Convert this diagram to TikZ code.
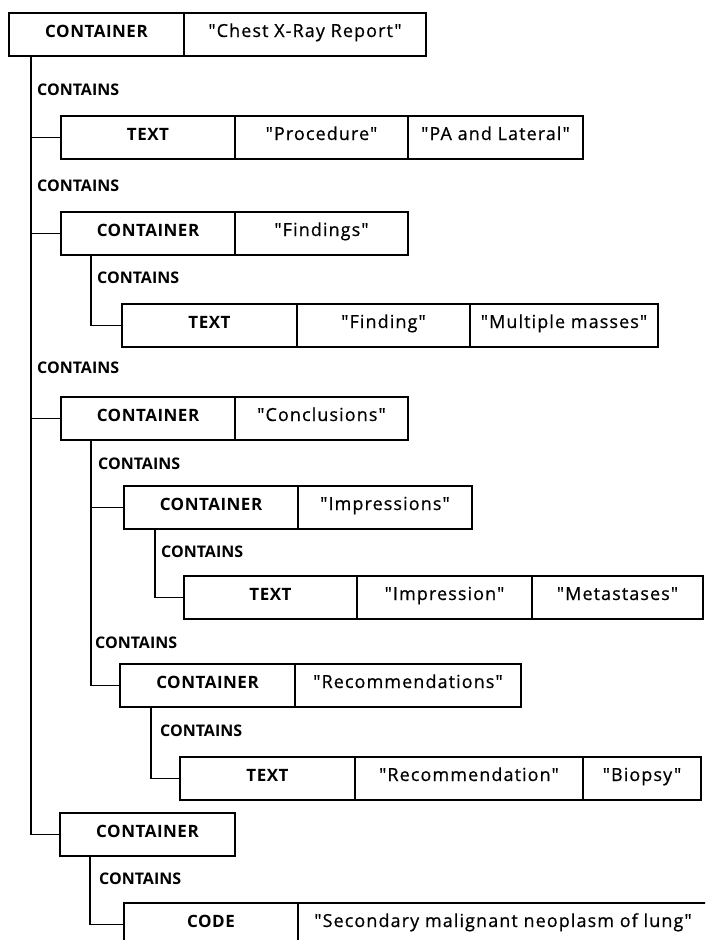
\documentclass[tikz,border=0pt]{standalone}
\usepackage{fontspec}
\setmainfont{Open Sans}
\newfontfamily\valfont{Open Sans}[FakeBold=0.6, LetterSpace=6]
\newcommand{\qt}[1]{\symbol{34}#1\symbol{34}}
\begin{document}
\begin{tikzpicture}[x=1pt,y=-1pt,
  cell/.style={draw, line width=1.4pt, anchor=north west, inner sep=0pt, outer sep=0pt,
    minimum height=43pt, text height=13pt, text depth=8pt, align=center},
  kind/.style={cell, font=\fontsize{17}{20}\selectfont\bfseries\addfontfeatures{LetterSpace=3}},
  val/.style={cell, font=\fontsize{18}{21}\valfont\bfseries\mdseries},
  rel/.style={anchor=west, inner sep=0pt, font=\fontsize{16}{19}\selectfont\bfseries},
  link/.style={line width=1.4pt}]
\clip (0,0) rectangle (705,940);

% report root
\node[kind, minimum width=175pt] (root) at (9,13) {CONTAINER};
\node[val, minimum width=242pt] (rootv) at (root.north east) {\qt{Chest X-Ray Report}};

% procedure
\node[rel] (l1) at (37,90) {CONTAINS};
\node[kind, minimum width=174pt] (proc) at (61,116) {TEXT};
\node[val, minimum width=173pt] (procn) at (proc.north east) {\qt{Procedure}};
\node[val, minimum width=175pt] (procv) at (procn.north east) {\qt{PA and Lateral}};

% findings
\node[rel] (l2) at (37,186) {CONTAINS};
\node[kind, minimum width=174pt] (find) at (61,212) {CONTAINER};
\node[val, minimum width=173pt] (findv) at (find.north east) {\qt{Findings}};
\node[rel] (l3) at (97,278) {CONTAINS};
\node[kind, minimum width=175pt] (fnd) at (122,304) {TEXT};
\node[val, minimum width=173pt] (fndn) at (fnd.north east) {\qt{Finding}};
\node[val, minimum width=188pt] (fndv) at (fndn.north east) {\qt{Multiple masses}};

% conclusions
\node[rel] (l4) at (37,368) {CONTAINS};
\node[kind, minimum width=174pt] (conc) at (61,397) {CONTAINER};
\node[val, minimum width=173pt] (concv) at (conc.north east) {\qt{Conclusions}};
\node[rel] (l5) at (98,464) {CONTAINS};
\node[kind, minimum width=174pt] (imps) at (124,486) {CONTAINER};
\node[val, minimum width=174pt] (impsv) at (imps.north east) {\qt{Impressions}};
\node[rel] (l6) at (161,552) {CONTAINS};
\node[kind, minimum width=173pt] (imp) at (184,576) {TEXT};
\node[val, minimum width=175pt] (impn) at (imp.north east) {\qt{Impression}};
\node[val, minimum width=171pt] (impv) at (impn.north east) {\qt{Metastases}};
\node[rel] (l7) at (95,643) {CONTAINS};
\node[kind, minimum width=175pt] (recs) at (120,664) {CONTAINER};
\node[val, minimum width=226pt] (recsv) at (recs.north east) {\qt{Recommendations}};
\node[rel] (l8) at (160,731) {CONTAINS};
\node[kind, minimum width=175pt] (rec) at (180,757) {TEXT};
\node[val, minimum width=228pt] (recn) at (rec.north east) {\qt{Recommendation}};
\node[val, minimum width=118pt] (recv) at (recn.north east) {\qt{Biopsy}};

% coded entry
\node[kind, minimum width=175pt] (cod) at (60,813) {CONTAINER};
\node[rel] (l9) at (99,879) {CONTAINS};
\node[kind, minimum width=174pt] (code) at (124,903) {CODE};
\node[val, minimum width=410pt] (codev) at (code.north east) {\qt{Secondary malignant neoplasm of lung}};

% containment links
\coordinate (t0) at ([xshift=22pt]root.south west);
\draw[link] (t0) |- (proc.west);
\draw[link] (t0) |- (find.west);
\draw[link] (t0) |- (conc.west);
\draw[link] (t0) |- (cod.west);
\coordinate (t1) at ([xshift=30pt]find.south west);
\draw[link] (t1) |- (fnd.west);
\coordinate (t2) at ([xshift=30pt]conc.south west);
\draw[link] (t2) |- (imps.west);
\draw[link] (t2) |- (recs.west);
\coordinate (t3) at ([xshift=31pt]imps.south west);
\draw[link] (t3) |- (imp.west);
\coordinate (t4) at ([xshift=31pt]recs.south west);
\draw[link] (t4) |- (rec.west);
\coordinate (t5) at ([xshift=30pt]cod.south west);
\draw[link] (t5) |- (code.west);
\end{tikzpicture}
\end{document}
